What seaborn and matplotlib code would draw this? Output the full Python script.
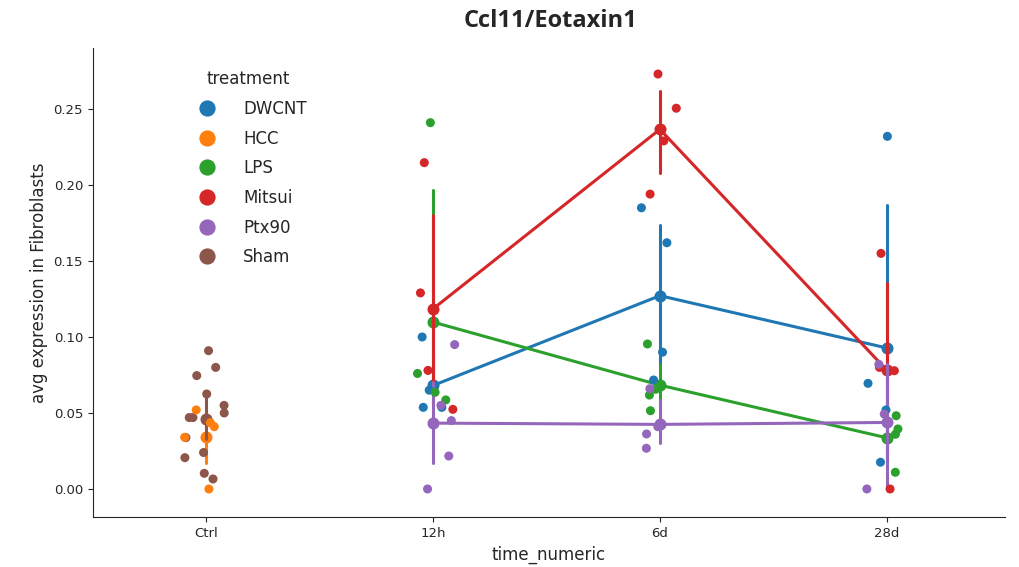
import numpy as np
import pandas as pd
import seaborn as sns
import matplotlib
matplotlib.use('Agg')
import matplotlib.pyplot as plt

# Values, per time point and treatment
time_order = ['Ctrl', '12h', '6d', '28d']
hue_order = ['DWCNT', 'HCC', 'LPS', 'Mitsui', 'Ptx90', 'Sham']

ctrl_sham = [0.091, 0.080, 0.0746, 0.0625, 0.055, 0.050, 0.047, 0.047,
             0.0338, 0.024, 0.0206, 0.0103, 0.0066]
ctrl_hcc = [0.052, 0.041, 0.0436, 0.034, 0.0]

h12_dwcnt = [0.100, 0.065, 0.0537, 0.0537]
h12_lps = [0.241, 0.076, 0.0636, 0.0586]
h12_mitsui = [0.2147, 0.129, 0.078, 0.0524]
h12_ptx90 = [0.095, 0.055, 0.045, 0.0217, 0.0]

d6_dwcnt = [0.185, 0.162, 0.090, 0.0717]
d6_lps = [0.0954, 0.0656, 0.0673, 0.0618, 0.0515]
d6_mitsui = [0.273, 0.2505, 0.229, 0.194]
d6_ptx90 = [0.066, 0.041, 0.0362, 0.0268]

d28_dwcnt = [0.232, 0.0695, 0.052, 0.0176]
d28_lps = [0.0482, 0.0395, 0.036, 0.011]
d28_mitsui = [0.155, 0.0778, 0.080, 0.0]
d28_ptx90 = [0.082, 0.0493, 0.0]

groups = [
    ('Ctrl', 'Sham', ctrl_sham), ('Ctrl', 'HCC', ctrl_hcc),
    ('12h', 'DWCNT', h12_dwcnt), ('12h', 'LPS', h12_lps),
    ('12h', 'Mitsui', h12_mitsui), ('12h', 'Ptx90', h12_ptx90),
    ('6d', 'DWCNT', d6_dwcnt), ('6d', 'LPS', d6_lps),
    ('6d', 'Mitsui', d6_mitsui), ('6d', 'Ptx90', d6_ptx90),
    ('28d', 'DWCNT', d28_dwcnt), ('28d', 'LPS', d28_lps),
    ('28d', 'Mitsui', d28_mitsui), ('28d', 'Ptx90', d28_ptx90),
]

rows = []
for t, trt, vals in groups:
    for v in vals:
        rows.append({'time_numeric': t, 'treatment': trt,
                     'avg expression in Fibroblasts': v})
df = pd.DataFrame(rows)

sns.set_style('ticks')
np.random.seed(3)

fig = plt.figure(figsize=(10.2, 5.67), dpi=100)
ax = fig.add_axes([0.091, 0.088, 0.894, 0.827])

sns.stripplot(data=df, x='time_numeric', y='avg expression in Fibroblasts',
              hue='treatment', order=time_order, hue_order=hue_order,
              palette='tab10', jitter=0.1, size=6.5, ax=ax)
sns.pointplot(data=df, x='time_numeric', y='avg expression in Fibroblasts',
              hue='treatment', order=time_order, hue_order=hue_order,
              palette='tab10', seed=0, markersize=7, linewidth=2.2,
              legend=False, ax=ax)

ax.set_xlim(-0.5, 3.52)
ax.set_ylim(-0.0185, 0.29)
ax.tick_params(axis='both', labelsize=9.5)
ax.set_xlabel('time_numeric', fontsize=12)
ax.set_ylabel('avg expression in Fibroblasts', fontsize=12)
sns.despine(ax=ax)

ax.legend(title='treatment', loc='upper left', bbox_to_anchor=(0.09, 0.985),
          frameon=False, fontsize=12, title_fontsize=12, markerscale=1.8,
          labelspacing=0.7, handletextpad=1.2)

fig.suptitle('Ccl11/Eotaxin1', fontsize=17, fontweight='bold',
             family='Open Sans', x=0.54, y=0.985)

fig.savefig('out.png', dpi=100)
